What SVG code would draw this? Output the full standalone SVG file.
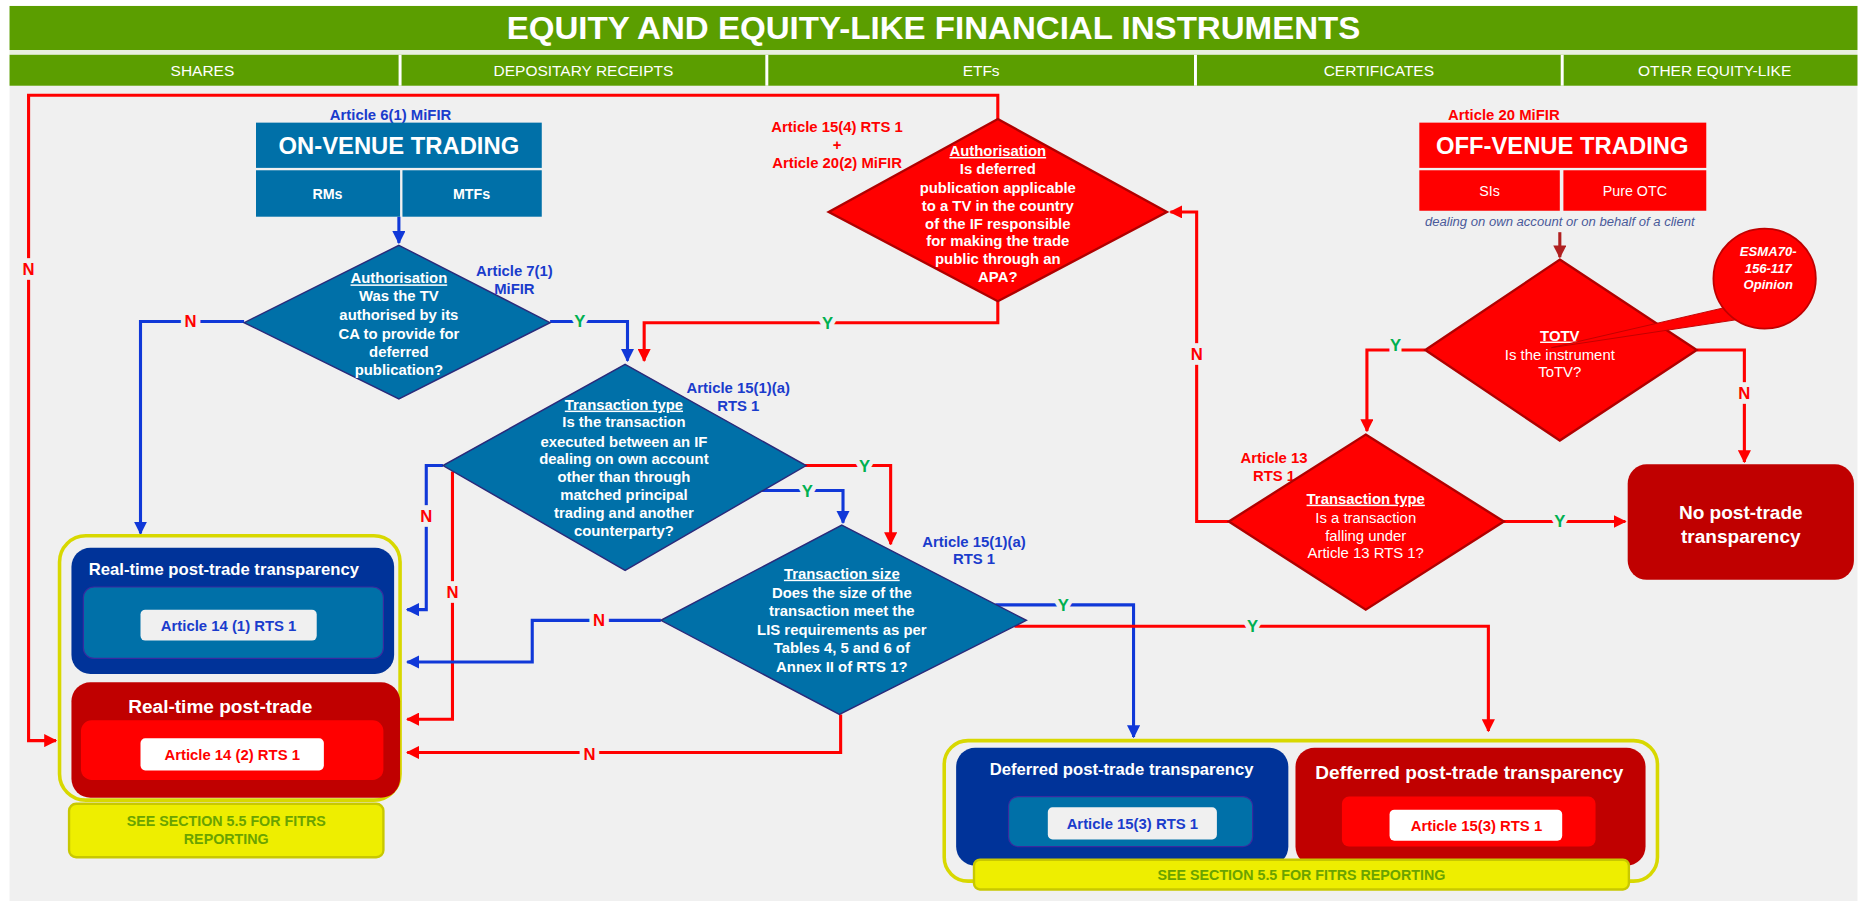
<svg xmlns="http://www.w3.org/2000/svg" width="1867" height="901" viewBox="0 0 1867 901">
<defs>
<style>
text{font-family:"Liberation Sans",Arial,sans-serif;}
.b{font-weight:bold;}
.w{fill:#ffffff;}
.c{text-anchor:middle;}
.blueT{fill:#1a3ccc;font-weight:bold;font-size:12.5px;}
.redT{fill:#ff0000;font-weight:bold;font-size:12.5px;}
.dq{fill:#ffffff;font-weight:bold;font-size:12.5px;text-anchor:middle;}
.ul{text-decoration:underline;}
.cb{fill:none;stroke:#1038d8;stroke-width:2.6;}
.cr{fill:none;stroke:#ff0000;stroke-width:2.6;}
.cd{fill:none;stroke:#b02020;stroke-width:2.6;}
.lY{fill:#00b050;font-weight:bold;font-size:14px;text-anchor:middle;paint-order:stroke;stroke:#f0f0f0;stroke-width:8px;}
.lN{fill:#ff0000;font-weight:bold;font-size:14px;text-anchor:middle;paint-order:stroke;stroke:#f0f0f0;stroke-width:8px;}
.bd{fill:#0070a8;stroke:#2a2a7a;stroke-width:1.2;}
.rd{fill:#ff0000;stroke:#b00000;stroke-width:2;}
.gh{fill:#5b9e00;}
.sub{fill:#ffffff;font-size:13px;text-anchor:middle;}
</style>
<marker id="ab" viewBox="0 0 10 10" refX="9" refY="5" markerWidth="11" markerHeight="11" markerUnits="userSpaceOnUse" orient="auto"><path d="M0,0 L10,5 L0,10 z" fill="#1038d8"/></marker>
<marker id="ar" viewBox="0 0 10 10" refX="9" refY="5" markerWidth="11" markerHeight="11" markerUnits="userSpaceOnUse" orient="auto"><path d="M0,0 L10,5 L0,10 z" fill="#ff0000"/></marker>
<marker id="ad" viewBox="0 0 10 10" refX="9" refY="5" markerWidth="11" markerHeight="11" markerUnits="userSpaceOnUse" orient="auto"><path d="M0,0 L10,5 L0,10 z" fill="#b02020"/></marker>
</defs>
<rect x="0" y="0" width="1867" height="901" fill="#ffffff"/>
<g transform="scale(1.1907)">
<!-- background -->
<rect x="8" y="72" width="1552" height="685" fill="#f0f0f0"/>
<!-- header -->
<g id="header">
<rect class="gh" x="8" y="5" width="1552" height="37"/>
<rect x="8" y="42" width="1552" height="4" fill="#e8efe0"/>
<rect class="gh" x="8" y="46" width="1552" height="26"/>
<g stroke="#ffffff" stroke-width="2.5"><line x1="336" y1="46" x2="336" y2="72"/><line x1="644" y1="46" x2="644" y2="72"/><line x1="1004" y1="46" x2="1004" y2="72"/><line x1="1312" y1="46" x2="1312" y2="72"/></g>
<text class="w b c" x="784" y="33" font-size="26" textLength="717" lengthAdjust="spacingAndGlyphs">EQUITY AND EQUITY-LIKE FINANCIAL INSTRUMENTS</text>
<text class="sub" x="170" y="64">SHARES</text>
<text class="sub" x="490" y="64">DEPOSITARY RECEIPTS</text>
<text class="sub" x="824" y="64">ETFs</text>
<text class="sub" x="1158" y="64">CERTIFICATES</text>
<text class="sub" x="1440" y="64">OTHER EQUITY-LIKE</text>
</g>
<!-- connectors -->
<g id="connectors">
<polyline class="cb" points="335,182 335,204" marker-end="url(#ab)"/>
<polyline class="cb" points="205,270 118,270 118,448" marker-end="url(#ab)"/>
<polyline class="cb" points="462,270 527,270 527,303" marker-end="url(#ab)"/>
<polyline class="cr" points="838,253 838,271 541,271 541,303" marker-end="url(#ar)"/>
<polyline class="cr" points="838,101 838,80 24,80 24,622 47,622" marker-end="url(#ar)"/>
<polyline class="cr" points="676,391 748,391 748,457" marker-end="url(#ar)"/>
<polyline class="cb" points="640,412 708,412 708,439" marker-end="url(#ab)"/>
<polyline class="cb" points="372,391 358,391 358,512 342,512" marker-end="url(#ab)"/>
<polyline class="cr" points="380,396 380,604 342,604" marker-end="url(#ar)"/>
<polyline class="cb" points="555,521 447,521 447,556 342,556" marker-end="url(#ab)"/>
<polyline class="cr" points="706,600 706,632 342,632" marker-end="url(#ar)"/>
<polyline class="cb" points="836,508 952,508 952,619" marker-end="url(#ab)"/>
<polyline class="cr" points="852,526 1250,526 1250,614" marker-end="url(#ar)"/>
<polyline class="cr" points="1032,438 1005,438 1005,178 983,178" marker-end="url(#ar)"/>
<polyline class="cd" points="1310,195 1310,216" marker-end="url(#ad)"/>
<polyline class="cr" points="1197,294 1148,294 1148,362" marker-end="url(#ar)"/>
<polyline class="cr" points="1425,294 1465,294 1465,388" marker-end="url(#ar)"/>
<polyline class="cr" points="1263,438 1365,438" marker-end="url(#ar)"/>
<text class="lN" x="160" y="275">N</text>
<text class="lY" x="487" y="275">Y</text>
<text class="lY" x="695" y="276">Y</text>
<text class="lN" x="24" y="231">N</text>
<text class="lY" x="726" y="396">Y</text>
<text class="lY" x="678" y="417">Y</text>
<text class="lN" x="358" y="438">N</text>
<text class="lN" x="380" y="502">N</text>
<text class="lN" x="503" y="526">N</text>
<text class="lN" x="495" y="638">N</text>
<text class="lY" x="893" y="513">Y</text>
<text class="lY" x="1052" y="531">Y</text>
<text class="lN" x="1005" y="302">N</text>
<text class="lY" x="1172" y="295">Y</text>
<text class="lN" x="1465" y="335">N</text>
<text class="lY" x="1310" y="443">Y</text>
</g>
<!-- on-venue -->
<g id="on-venue">
<text class="blueT c" x="328" y="101">Article 6(1) MiFIR</text>
<rect x="215" y="103" width="240" height="38" fill="#0070a8"/>
<text class="w b c" x="335" y="129" font-size="20">ON-VENUE TRADING</text>
<rect x="215" y="143" width="121" height="39" fill="#0070a8"/>
<rect x="338" y="143" width="117" height="39" fill="#0070a8"/>
<text class="w b c" x="275" y="167" font-size="12">RMs</text>
<text class="w b c" x="396" y="167" font-size="12">MTFs</text>
</g>
<g id="d-authorisation-tv">
<polygon class="bd" points="335,206 462,271 335,335 205,271"/>
<text class="dq ul" x="335" y="238">Authorisation</text>
<text class="dq" x="335" y="253">Was the TV</text>
<text class="dq" x="335" y="269">authorised by its</text>
<text class="dq" x="335" y="285">CA to provide for</text>
<text class="dq" x="335" y="300">deferred</text>
<text class="dq" x="335" y="315">publication?</text>
<text class="blueT c" x="432" y="232">Article 7(1)</text>
<text class="blueT c" x="432" y="247">MiFIR</text>
</g>
<g id="d-transaction-type">
<polygon class="bd" points="525,306 677,391 525,479 372,391"/>
<text class="dq ul" x="524" y="344">Transaction type</text>
<text class="dq" x="524" y="359">Is the transaction</text>
<text class="dq" x="524" y="375">executed between an IF</text>
<text class="dq" x="524" y="390">dealing on own account</text>
<text class="dq" x="524" y="405">other than through</text>
<text class="dq" x="524" y="420">matched principal</text>
<text class="dq" x="524" y="435">trading and another</text>
<text class="dq" x="524" y="450">counterparty?</text>
<text class="blueT c" x="620" y="330">Article 15(1)(a)</text>
<text class="blueT c" x="620" y="345">RTS 1</text>
</g>
<g id="d-transaction-size">
<polygon class="bd" points="707,441 862,521 705,600 555,521"/>
<text class="dq ul" x="707" y="486">Transaction size</text>
<text class="dq" x="707" y="502">Does the size of the</text>
<text class="dq" x="707" y="517">transaction meet the</text>
<text class="dq" x="707" y="533">LIS requirements as per</text>
<text class="dq" x="707" y="548">Tables 4, 5 and 6 of</text>
<text class="dq" x="707" y="564">Annex II of RTS 1?</text>
<text class="blueT c" x="818" y="459">Article 15(1)(a)</text>
<text class="blueT c" x="818" y="474">RTS 1</text>
</g>
<!-- left result group -->
<g id="left-results">
<rect x="50" y="450" width="286" height="222" rx="22" fill="none" stroke="#d8d800" stroke-width="3"/>
<rect x="60" y="460" width="271" height="106" rx="16" fill="#003399"/>
<text class="w b c" x="188" y="483" font-size="14">Real-time post-trade transparency</text>
<rect x="70" y="493" width="252" height="60" rx="9" fill="#0070a8" stroke="#3a2aa0" stroke-width="1"/>
<rect x="118" y="512" width="148" height="26" rx="4" fill="#f0f0f0"/>
<text class="blueT c" x="192" y="530" font-size="13">Article 14 (1) RTS 1</text>
<rect x="60" y="573" width="276" height="97" rx="16" fill="#c00000"/>
<text class="w b c" x="185" y="599" font-size="16">Real-time post-trade</text>
<rect x="68" y="605" width="254" height="50" rx="9" fill="#ff0000"/>
<rect x="118" y="620" width="154" height="27" rx="4" fill="#ffffff"/>
<text class="redT c" x="195" y="638" font-size="13">Article 14 (2) RTS 1</text>
<rect x="58" y="675" width="264" height="45" rx="6" fill="#eeee00" stroke="#c8c800" stroke-width="2"/>
<text class="b c" x="190" y="694" font-size="12" fill="#6aa300">SEE SECTION 5.5 FOR FITRS</text>
<text class="b c" x="190" y="709" font-size="12" fill="#6aa300">REPORTING</text>
</g>
<!-- deferred group -->
<g id="deferred-results">
<rect x="793" y="622" width="599" height="118" rx="20" fill="none" stroke="#d8d800" stroke-width="3"/>
<rect x="803" y="628" width="279" height="99" rx="16" fill="#003399"/>
<text class="w b c" x="942" y="651" font-size="14">Deferred post-trade transparency</text>
<rect x="847" y="669" width="205" height="42" rx="8" fill="#0070a8" stroke="#3a2aa0" stroke-width="1"/>
<rect x="880" y="678" width="142" height="27" rx="4" fill="#f0f0f0"/>
<text class="blueT c" x="951" y="696" font-size="13">Article 15(3) RTS 1</text>
<rect x="1088" y="628" width="294" height="99" rx="16" fill="#c00000"/>
<text class="w b c" x="1234" y="654" font-size="16">Defferred post-trade transparency</text>
<rect x="1127" y="669" width="213" height="42" rx="6" fill="#ff0000"/>
<rect x="1167" y="680" width="145" height="26" rx="4" fill="#ffffff"/>
<text class="redT c" x="1240" y="698" font-size="13">Article 15(3) RTS 1</text>
<rect x="818" y="722" width="550" height="25" rx="5" fill="#eeee00" stroke="#c8c800" stroke-width="2"/>
<text class="b c" x="1093" y="739" font-size="12" fill="#6aa300">SEE SECTION 5.5 FOR FITRS REPORTING</text>
</g>
<!-- red authorisation diamond -->
<g id="d-authorisation-apa">
<text class="redT c" x="703" y="111">Article 15(4) RTS 1</text>
<text class="redT c" x="703" y="126" font-size="10">+</text>
<text class="redT c" x="703" y="141">Article 20(2) MiFIR</text>
<polygon class="rd" points="838,100 980,178 838,253 696,178"/>
<text class="dq ul" x="838" y="131">Authorisation</text>
<text class="dq" x="838" y="146">Is deferred</text>
<text class="dq" x="838" y="162">publication applicable</text>
<text class="dq" x="838" y="177">to a TV in the country</text>
<text class="dq" x="838" y="192">of the IF responsible</text>
<text class="dq" x="838" y="207">for making the trade</text>
<text class="dq" x="838" y="222">public through an</text>
<text class="dq" x="838" y="237">APA?</text>
</g>
<!-- off-venue -->
<g id="off-venue">
<text class="redT c" x="1263" y="101">Article 20 MiFIR</text>
<rect x="1192" y="103" width="241" height="38" fill="#ff0000"/>
<text class="w b c" x="1312" y="129" font-size="20">OFF-VENUE TRADING</text>
<rect x="1192" y="143" width="118" height="34" fill="#ff0000"/>
<rect x="1313" y="143" width="120" height="34" fill="#ff0000"/>
<text class="w c" x="1251" y="165" font-size="12">SIs</text>
<text class="w c" x="1373" y="165" font-size="12">Pure OTC</text>
<text class="c" x="1310" y="190" font-size="11" font-style="italic" fill="#4a5a9a">dealing on own account or on behalf of a client</text>
</g>
<g id="d-totv">
<polygon class="rd" points="1310,218 1425,294 1310,370 1197,294"/>
<text class="dq ul" x="1310" y="286">TOTV</text>
<text class="w c" x="1310" y="302" font-size="12.5">Is the instrument</text>
<text class="w c" x="1310" y="317" font-size="12.5">ToTV?</text>
</g>
<g id="esma-callout">
<path d="M1450,258 L1303,292 L1462,268 Z" fill="#ff0000" stroke="#c00000" stroke-width="0.8"/>
<ellipse cx="1482" cy="234" rx="43" ry="42" fill="#ff0000" stroke="#c00000" stroke-width="1.5"/>
<text class="w b c" x="1485" y="215" font-size="11" font-style="italic">ESMA70-</text>
<text class="w b c" x="1485" y="229" font-size="11" font-style="italic">156-117</text>
<text class="w b c" x="1485" y="243" font-size="11" font-style="italic">Opinion</text>
</g>
<g id="d-article13">
<text class="redT c" x="1070" y="389">Article 13</text>
<text class="redT c" x="1070" y="404">RTS 1</text>
<polygon class="rd" points="1147,365 1263,438 1147,512 1032,438"/>
<text class="dq ul" x="1147" y="423">Transaction type</text>
<text class="w c" x="1147" y="439" font-size="12.5">Is a transaction</text>
<text class="w c" x="1147" y="454" font-size="12.5">falling under</text>
<text class="w c" x="1147" y="469" font-size="12.5">Article 13 RTS 1?</text>
</g>
<g id="no-post-trade">
<rect x="1367" y="390" width="190" height="97" rx="16" fill="#c00000"/>
<text class="w b c" x="1462" y="436" font-size="16">No post-trade</text>
<text class="w b c" x="1462" y="456" font-size="16">transparency</text>
</g>
</g>
</svg>
